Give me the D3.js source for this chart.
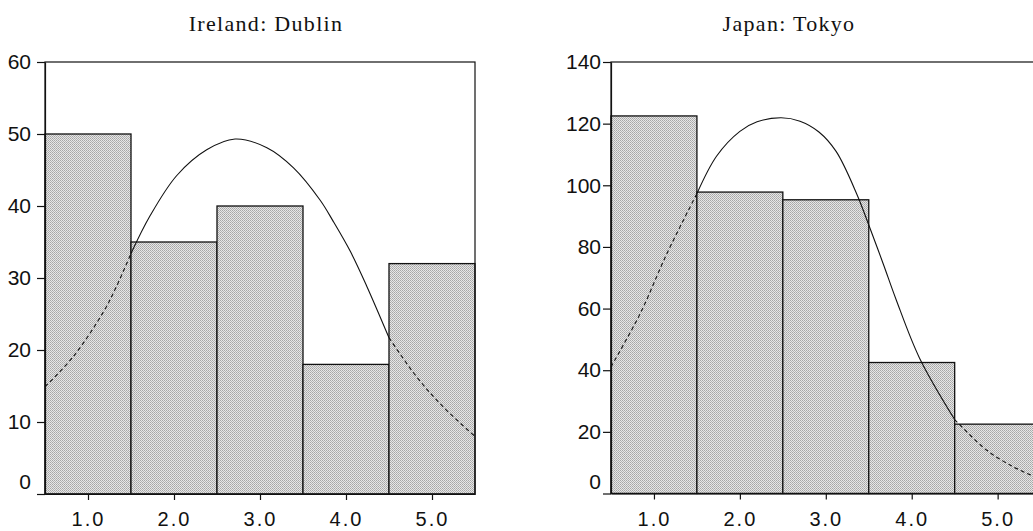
<!DOCTYPE html>
<html>
<head>
<meta charset="utf-8">
<script src="https://cdn.jsdelivr.net/npm/d3@7"></script>
<style>
  body { margin: 0; background: #fff; }
  svg { display: block; }
</style>
</head>
<body>
<div id="chart"></div>
<script>
// bin centres and their labels (shared by both panels)
const binCenters = [1, 2, 3, 4, 5];
const binLabels = ["1.0", "2.0", "3.0", "4.0", "5.0"];

// Ireland: Dublin
const dublinCounts = [50, 35, 40, 18, 32];
const dublinTicks = [0, 10, 20, 30, 40, 50, 60];
const dublinCurveX = [0.5, 0.83, 1.18, 1.33, 1.5, 1.72, 2.03, 2.38, 2.71, 3.08, 3.39, 3.70, 3.85, 4.05, 4.24, 4.5, 4.82, 5.13, 5.5];
const dublinCurveY = [14.9, 19.1, 25.3, 28.8, 33.4, 38.6, 44.2, 47.8, 49.3, 48.1, 45.3, 40.8, 37.9, 33.7, 28.9, 21.7, 16.3, 12.1, 8.0];

// Japan: Tokyo
const tokyoCounts = [122.5, 97.8, 95.3, 42.5, 22.5];
const tokyoTicks = [0, 20, 40, 60, 80, 100, 120, 140];
const tokyoCurveX = [0.5, 0.84, 1.15, 1.5, 1.73, 2.0, 2.2, 2.48, 2.70, 2.92, 3.12, 3.36, 3.51, 3.67, 3.82, 4.09, 4.5, 4.87, 5.18, 5.41, 5.5];
const tokyoCurveY = [41.1, 58.4, 77.8, 97.3, 109.5, 117.5, 120.6, 121.9, 120.8, 117.3, 111.0, 97.2, 86.4, 74.4, 62.8, 44.0, 24.0, 14.1, 8.7, 5.7, 4.6];

const W = 1033, H = 531;

const panels = [
  { title: "Ireland: Dublin", titleX: 266, counts: dublinCounts, ticks: dublinTicks, yMax: 60,
    cx: dublinCurveX, cy: dublinCurveY, left: 45, right: 475, top: 62, bottom: 494, pad: 6 },
  { title: "Japan: Tokyo", titleX: 789, counts: tokyoCounts, ticks: tokyoTicks, yMax: 140,
    cx: tokyoCurveX, cy: tokyoCurveY, left: 611, right: 1040.6, top: 62, bottom: 493.5, pad: 2 }
];

const svg = d3.select("#chart")
  .append("svg")
  .attr("width", W)
  .attr("height", H);

// dithered grey fill like the printed stipple
const pat = svg.append("defs").append("pattern")
  .attr("id", "stipple")
  .attr("width", 2).attr("height", 2)
  .attr("patternUnits", "userSpaceOnUse");
pat.append("rect").attr("width", 2).attr("height", 2).attr("fill", "#e6e6e6");
pat.append("rect").attr("width", 1).attr("height", 1).attr("fill", "#a6a6a6");
pat.append("rect").attr("x", 1).attr("y", 1).attr("width", 1).attr("height", 1).attr("fill", "#b4b4b4");

panels.forEach(p => {
  const g = svg.append("g");

  const x = d3.scaleLinear().domain([0.5, 5.5]).range([p.left, p.right]);
  const y = d3.scaleLinear().domain([0, p.yMax]).range([p.bottom, p.top]);

  // title
  g.append("text")
    .attr("x", p.titleX)
    .attr("y", 31)
    .attr("text-anchor", "middle")
    .style("font-family", "'Liberation Serif', 'Times New Roman', serif")
    .style("font-size", "22px")
    .style("letter-spacing", "1.3px")
    .style("fill", "#111")
    .text(p.title);

  // bars
  const bars = binCenters.map((c, i) => ({ c, v: p.counts[i] }));
  g.selectAll("rect.bar")
    .data(bars)
    .join("rect")
    .attr("class", "bar")
    .attr("x", d => x(d.c - 0.5))
    .attr("y", d => y(d.v))
    .attr("width", d => x(d.c + 0.5) - x(d.c - 0.5))
    .attr("height", d => y(0) - y(d.v))
    .attr("fill", "url(#stipple)")
    .attr("stroke", "#111")
    .attr("stroke-width", 1.3);

  // fitted curve: solid in the middle, dashed in the tails
  const pts = p.cx.map((v, i) => [v, p.cy[i]]);
  const line = d3.line()
    .x(d => x(d[0]))
    .y(d => y(d[1]))
    .curve(d3.curveCatmullRom.alpha(0.5));
  const parts = [
    { d: pts.filter(d => d[0] <= 1.5), dash: "4,3" },
    { d: pts.filter(d => d[0] >= 1.5 && d[0] <= 4.5), dash: null },
    { d: pts.filter(d => d[0] >= 4.5), dash: "4,3" }
  ];
  parts.forEach(s => {
    g.append("path")
      .datum(s.d)
      .attr("d", line)
      .attr("fill", "none")
      .attr("stroke", "#111")
      .attr("stroke-width", 1.1)
      .attr("stroke-dasharray", s.dash);
  });

  // frame (top and right edges)
  g.append("rect")
    .attr("x", p.left)
    .attr("y", p.top)
    .attr("width", p.right - p.left)
    .attr("height", p.bottom - p.top)
    .attr("fill", "none")
    .attr("stroke", "#111")
    .attr("stroke-width", 1.2);

  // y axis
  const yAxis = g.append("g")
    .attr("transform", `translate(${p.left},0)`)
    .call(d3.axisLeft(y).tickValues(p.ticks).tickSize(8).tickSizeOuter(0).tickPadding(p.pad));
  yAxis.selectAll("text")
    .style("font-family", "'Liberation Sans', Arial, sans-serif")
    .style("font-size", "21px")
    .style("fill", "#111")
    .attr("dy", d => d === 0 ? "-0.25em" : "0.32em");
  yAxis.selectAll("line, path").attr("stroke", "#111").attr("stroke-width", 1.2);

  // x axis
  const xAxis = g.append("g")
    .attr("transform", `translate(0,${p.bottom})`)
    .call(d3.axisBottom(x).tickValues(binCenters).tickSize(6).tickSizeOuter(0).tickPadding(12)
      .tickFormat((d, i) => binLabels[i]));
  xAxis.selectAll("text")
    .style("font-family", "'Liberation Sans', Arial, sans-serif")
    .style("font-size", "20px")
    .style("letter-spacing", "2px")
    .style("fill", "#111");
  xAxis.selectAll("line, path").attr("stroke", "#111").attr("stroke-width", 1.2);
});
</script>
</body>
</html>
